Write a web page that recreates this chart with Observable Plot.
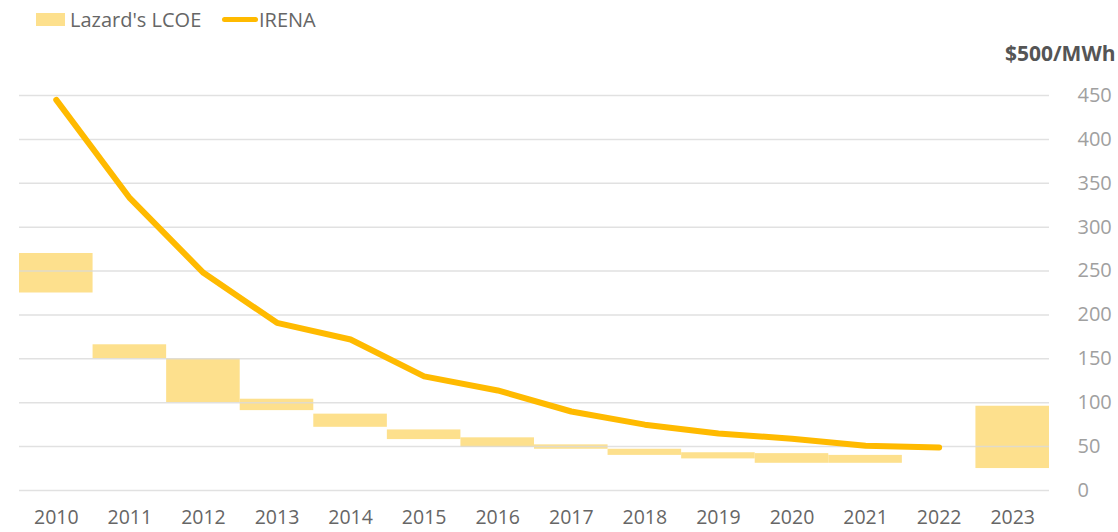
<!DOCTYPE html>
<html>
<head>
<meta charset="utf-8">
<script src="https://cdn.jsdelivr.net/npm/d3@7"></script>
<script src="https://cdn.jsdelivr.net/npm/@observablehq/plot@0.6"></script>
<style>
  body { margin: 0; background: #fff; font-family: "Open Sans", sans-serif; }
  #legend { position: relative; height: 40px; width: 1118px; color: #666; font-size: 20px; }
  #legend .sw { position: absolute; }
  #legend .lab { position: absolute; top: 6px; line-height: 28px; }
</style>
</head>
<body>
<div id="legend">
  <div class="sw" style="left:36px; top:13px; width:29px; height:13px; background:#FDE08D;"></div>
  <div class="lab" style="left:70px;">Lazard's LCOE</div>
  <div class="sw" style="left:222px; top:17px; width:36px; height:5px; border-radius:3px; background:#FFBA00;"></div>
  <div class="lab" style="left:259px;">IRENA</div>
</div>
<div id="chart"></div>
<script>
const years = ["2010","2011","2012","2013","2014","2015","2016","2017","2018","2019","2020","2021","2022","2023"];
const lazardYears = ["2010","2011","2012","2013","2014","2015","2016","2017","2018","2019","2020","2021","2023"];
const lazardLow  = [225, 150, 100, 91, 72, 58, 49, 47, 40, 36, 31, 31, 25];
const lazardHigh = [270, 166, 150, 104, 87, 69, 60, 52, 47, 43, 42, 40, 96];
const irenaYears = ["2010","2011","2012","2013","2014","2015","2016","2017","2018","2019","2020","2021","2022"];
const irena = [445, 333, 248, 191, 172, 130, 114, 90, 75, 65, 59, 51, 49];
const yTicks = [0, 50, 100, 150, 200, 250, 300, 350, 400, 450];

const lazard = lazardYears.map((y, i) => ({year: y, low: lazardLow[i], high: lazardHigh[i]}));
const irenaData = irenaYears.map((y, i) => ({year: y, value: irena[i]}));

const chart = Plot.plot({
  width: 1118,
  height: 492,
  marginTop: 55,
  marginBottom: 42,
  marginLeft: 19,
  marginRight: 69,
  style: {fontFamily: "Open Sans, sans-serif", background: "#fff"},
  x: {type: "band", domain: years, padding: 0, round: false, label: null},
  y: {domain: [0, 450], label: null},
  marks: [
    Plot.barY(lazard, {x: "year", y1: "low", y2: "high", fill: "#FDE08D", insetLeft: 0, insetRight: 0}),
    Plot.ruleY(yTicks, {stroke: "#d9d9d9", strokeWidth: 1.5, strokeOpacity: 0.8}),
    Plot.line(irenaData, {x: "year", y: "value", stroke: "#FFBA00", strokeWidth: 6, strokeLinejoin: "round", strokeLinecap: "round"}),
    Plot.axisX({tickSize: 0, tickPadding: 20, fontSize: 19.5, color: "#666", label: null}),
    Plot.axisY({anchor: "right", ticks: yTicks, tickSize: 0, tickPadding: 0, dx: 28, fontSize: 20, color: "#a0a0a0", label: null}),
    Plot.text(["$500/MWh"], {frameAnchor: "top-right", dx: 66, dy: -41, textAnchor: "end", lineAnchor: "middle", fontSize: 21, fontWeight: "bold", fill: "#555"})
  ]
});
document.getElementById("chart").appendChild(chart);
</script>
</body>
</html>
